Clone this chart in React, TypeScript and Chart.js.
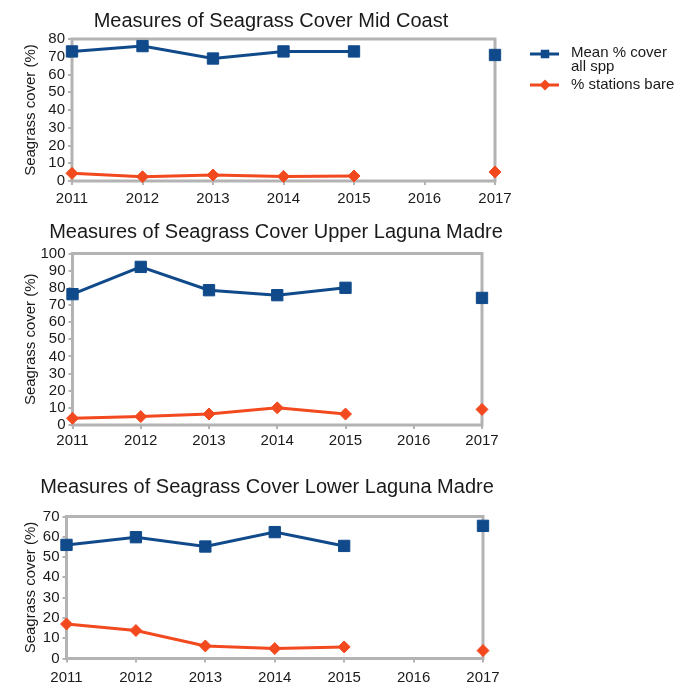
import React, { useEffect, useRef } from 'react';
import { Chart, registerables } from 'chart.js';

Chart.register(...registerables);

// ---------- data ----------
const years = ['2011', '2012', '2013', '2014', '2015', '2016', '2017'];

const midCoastMean = [73, 76, 69, 73, 73, null, 71];
const midCoastBare = [4.3, 2.4, 3.4, 2.6, 2.8, null, 5.1];

const upperLagunaMean = [76.3, 92.2, 78.6, 75.7, 80, null, 74.1];
const upperLagunaBare = [3.9, 4.9, 6.4, 10, 6.4, null, 9.1];

const lowerLagunaMean = [56, 59.8, 55.2, 62.3, 55.5, null, 65.4];
const lowerLagunaBare = [17, 13.8, 6.2, 4.9, 5.7, null, 3.9];

const seriesNames = ['Mean % cover all spp', '% stations bare'];
const legendLines = [['Mean % cover', 'all spp'], ['% stations bare']];

const panelTitles = [
  'Measures of Seagrass Cover Mid Coast',
  'Measures of Seagrass Cover Upper Laguna Madre',
  'Measures of Seagrass Cover Lower Laguna Madre',
];
const yAxisTitle = 'Seagrass cover (%)';
const yMaxes = [80, 100, 70];

// ---------- styles ----------
const FONT = "'Liberation Sans', Arial, Helvetica, sans-serif";
const TEXT = '#1a1a1a';
const BLUE = '#114a8b';
const ORANGE = '#f2491f';
const FRAME = '#b3b3b3';
const W = 677;

type PanelCfg = {
  top: number;
  height: number;
  plotLeft: number;
  plotRight: number;
  plotTop: number;
  plotBottom: number;
  titleX: number;
  titleY: number;
  xPad: number;
  legend: boolean;
  title: string;
  yMax: number;
  mean: (number | null)[];
  bare: (number | null)[];
};

const panels: PanelCfg[] = [
  {
    top: 0, height: 205, plotLeft: 72, plotRight: 495, plotTop: 39, plotBottom: 181,
    titleX: 271, titleY: 21, xPad: 5, legend: true,
    title: panelTitles[0], yMax: yMaxes[0], mean: midCoastMean, bare: midCoastBare,
  },
  {
    top: 215, height: 240, plotLeft: 72.5, plotRight: 482, plotTop: 38.5, plotBottom: 210,
    titleX: 276, titleY: 17, xPad: 3, legend: false,
    title: panelTitles[1], yMax: yMaxes[1], mean: upperLagunaMean, bare: upperLagunaBare,
  },
  {
    top: 470, height: 217, plotLeft: 66.5, plotRight: 483, plotTop: 46.5, plotBottom: 188.5,
    titleX: 267, titleY: 17.5, xPad: 6, legend: false,
    title: panelTitles[2], yMax: yMaxes[2], mean: lowerLagunaMean, bare: lowerLagunaBare,
  },
];

const LEFT_PAD = 18;

function drawSquare(ctx: CanvasRenderingContext2D, x: number, y: number, s: number, color: string) {
  ctx.fillStyle = color;
  ctx.fillRect(x - s / 2, y - s / 2, s, s);
}
function drawDiamond(ctx: CanvasRenderingContext2D, x: number, y: number, r: number, color: string) {
  ctx.fillStyle = color;
  ctx.beginPath();
  ctx.moveTo(x, y - r);
  ctx.lineTo(x + r, y);
  ctx.lineTo(x, y + r);
  ctx.lineTo(x - r, y);
  ctx.closePath();
  ctx.fill();
}

function Panel({ cfg }: { cfg: PanelCfg }) {
  const ref = useRef<HTMLCanvasElement>(null);

  useEffect(() => {
    const canvas = ref.current;
    if (!canvas) return;

    const framePlugin = {
      id: 'frame',
      beforeDatasetsDraw(chart: any) {
        const { ctx, chartArea } = chart;
        ctx.save();
        ctx.strokeStyle = FRAME;
        ctx.lineWidth = 3;
        ctx.strokeRect(chartArea.left, chartArea.top, chartArea.right - chartArea.left, chartArea.bottom - chartArea.top);
        ctx.restore();
      },
    };

    const titlePlugin = {
      id: 'panelTitle',
      afterDraw(chart: any) {
        const ctx = chart.ctx;
        ctx.save();
        ctx.font = `20px ${FONT}`;
        ctx.fillStyle = TEXT;
        ctx.textAlign = 'center';
        ctx.textBaseline = 'middle';
        ctx.fillText(cfg.title, cfg.titleX, cfg.titleY);
        ctx.restore();
      },
    };

    const legendPlugin = {
      id: 'sideLegend',
      afterDraw(chart: any) {
        if (!cfg.legend) return;
        const ctx = chart.ctx;
        const rows = [54, 85];
        const colors = [BLUE, ORANGE];
        ctx.save();
        rows.forEach((y, i) => {
          ctx.strokeStyle = colors[i];
          ctx.lineWidth = 3;
          ctx.beginPath();
          ctx.moveTo(530, y);
          ctx.lineTo(559, y);
          ctx.stroke();
          if (i === 0) drawSquare(ctx, 545, y, 8.5, colors[i]);
          else drawDiamond(ctx, 545, y, 5.5, colors[i]);
          ctx.font = `15px ${FONT}`;
          ctx.fillStyle = TEXT;
          ctx.textAlign = 'left';
          ctx.textBaseline = 'middle';
          legendLines[i].forEach((line, j) => {
            ctx.fillText(line, 571, (i === 0 ? 53 : 85) + j * 13.5);
          });
        });
        ctx.restore();
      },
    };

    const chart = new Chart(canvas, {
      type: 'line',
      data: {
        labels: years,
        datasets: [
          {
            label: seriesNames[0],
            data: cfg.mean,
            borderColor: BLUE,
            backgroundColor: BLUE,
            borderWidth: 3,
            pointStyle: 'rect',
            pointRadius: 8,
            pointBorderWidth: 1,
            pointBackgroundColor: BLUE,
            pointBorderColor: BLUE,
            spanGaps: false,
            clip: false as any,
            order: 1,
          },
          {
            label: seriesNames[1],
            data: cfg.bare,
            borderColor: ORANGE,
            backgroundColor: ORANGE,
            borderWidth: 3,
            pointStyle: 'rectRot',
            pointRadius: 6,
            pointBorderWidth: 1,
            pointBackgroundColor: ORANGE,
            pointBorderColor: ORANGE,
            spanGaps: false,
            clip: false as any,
            order: 2,
          },
        ],
      },
      options: {
        responsive: false,
        animation: false,
        devicePixelRatio: 1,
        layout: {
          padding: {
            left: LEFT_PAD,
            right: W - cfg.plotRight,
            top: cfg.plotTop,
            bottom: 0,
          },
        },
        plugins: {
          legend: { display: false },
          title: { display: false },
          tooltip: { enabled: false },
        },
        scales: {
          x: {
            type: 'category',
            offset: false,
            border: { display: false },
            grid: {
              display: true,
              drawOnChartArea: false,
              drawTicks: true,
              tickLength: 4,
              color: FRAME,
              lineWidth: 2,
            },
            ticks: {
              color: TEXT,
              font: { family: FONT, size: 15 },
              padding: cfg.xPad,
              maxRotation: 0,
              autoSkip: false,
            },
            afterFit(scale: any) {
              scale.height = cfg.height - cfg.plotBottom;
            },
          },
          y: {
            type: 'linear',
            min: 0,
            max: cfg.yMax,
            border: { display: false },
            grid: {
              display: true,
              drawOnChartArea: false,
              drawTicks: true,
              tickLength: 4,
              color: FRAME,
              lineWidth: 2,
            },
            ticks: {
              stepSize: 10,
              autoSkip: false,
              color: TEXT,
              font: { family: FONT, size: 15, lineHeight: 1 },
              padding: 3,
            },
            title: {
              display: true,
              text: yAxisTitle,
              color: TEXT,
              font: { family: FONT, size: 15 },
              padding: { top: 4, bottom: 4 },
            },
            afterFit(scale: any) {
              scale.width = cfg.plotLeft - LEFT_PAD;
            },
          },
        },
      },
      plugins: [framePlugin, titlePlugin, legendPlugin],
    } as any);

    return () => chart.destroy();
  }, [cfg]);

  return (
    <canvas
      ref={ref}
      width={W}
      height={cfg.height}
      style={{ position: 'absolute', left: 0, top: cfg.top, width: W, height: cfg.height, display: 'block' }}
    />
  );
}

export default function App() {
  return (
    <div style={{ position: 'absolute', left: 0, top: 0, width: W, height: 687, background: '#fff', overflow: 'hidden' }}>
      {panels.map((p, i) => (
        <Panel key={i} cfg={p} />
      ))}
    </div>
  );
}
